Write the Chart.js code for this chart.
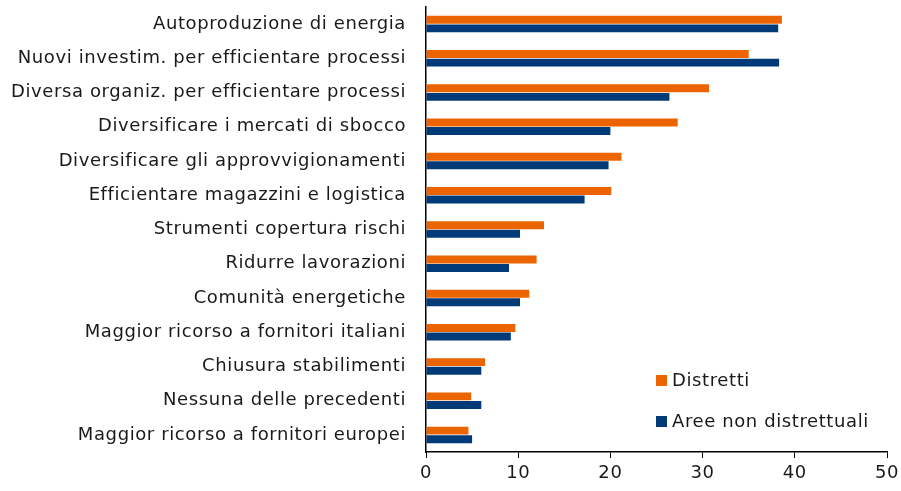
<!DOCTYPE html>
<html>
<head>
<meta charset="utf-8">
<script src="https://cdn.jsdelivr.net/npm/chart.js@4/dist/chart.umd.min.js"></script>
<style>
  html, body { margin: 0; padding: 0; background: #ffffff; }
  #wrap { width: 901px; height: 491px; position: relative; }
</style>
</head>
<body>
<div id="wrap"><canvas id="chart"></canvas></div>
<script>
// Data
const categories = [
    'Autoproduzione di energia',
    'Nuovi investim. per efficientare processi',
    'Diversa organiz. per efficientare processi',
    'Diversificare i mercati di sbocco',
    'Diversificare gli approvvigionamenti',
    'Efficientare magazzini e logistica',
    'Strumenti copertura rischi',
    'Ridurre lavorazioni',
    'Comunità energetiche',
    'Maggior ricorso a fornitori italiani',
    'Chiusura stabilimenti',
    'Nessuna delle precedenti',
    'Maggior ricorso a fornitori europei'
];
const distretti = [38.6, 35.0, 30.7, 27.3, 21.2, 20.1, 12.8, 12.0, 11.2, 9.7, 6.4, 4.9, 4.6];
const areeNonDistrettuali = [38.2, 38.3, 26.4, 20.0, 19.8, 17.2, 10.2, 9.0, 10.2, 9.2, 6.0, 6.0, 5.0];
const xTicks = [0, 10, 20, 30, 40, 50];

const ORANGE = '#EB6400';
const BLUE = '#003A78';
const FONT = 'DejaVu Sans';

// a bit of letter spacing to get closer to the wide original typeface
const spacing = {
    id: 'spacing',
    beforeDraw(chart) {
        chart.ctx.letterSpacing = '0.6px';
    }
};

// Legend drawn inside the plot, bottom right
const innerLegend = {
    id: 'innerLegend',
    afterDraw(chart) {
        const ctx = chart.ctx;
        const area = chart.chartArea;
        const x = area.left + 230;
        let y = area.bottom - 77;
        ctx.save();
        ctx.font = '18px ' + FONT;
        ctx.textBaseline = 'middle';
        ctx.textAlign = 'left';
        chart.data.datasets.forEach(ds => {
            ctx.fillStyle = ds.backgroundColor;
            ctx.fillRect(x, y, 11, 11);
            ctx.fillStyle = '#1a1a1a';
            ctx.fillText(ds.label, x + 16, y + 6);
            y += 41;
        });
        ctx.restore();
    }
};

new Chart(document.getElementById('chart'), {
    type: 'bar',
    data: {
        labels: categories,
        datasets: [
            {
                label: 'Distretti',
                data: distretti,
                backgroundColor: ORANGE,
                categoryPercentage: 0.5,
                barPercentage: 0.93
            },
            {
                label: 'Aree non distrettuali',
                data: areeNonDistrettuali,
                backgroundColor: BLUE,
                categoryPercentage: 0.5,
                barPercentage: 0.93
            }
        ]
    },
    options: {
        indexAxis: 'y',
        responsive: true,
        maintainAspectRatio: false,
        animation: false,
        layout: { padding: { top: 7, right: 14, left: 0, bottom: 0 } },
        plugins: {
            legend: { display: false },
            tooltip: { enabled: false }
        },
        scales: {
            x: {
                min: 0,
                max: 50,
                afterBuildTicks: scale => {
                    scale.ticks = xTicks.map(v => ({ value: v }));
                },
                afterFit: scale => {
                    scale.height = 39;
                    scale.paddingLeft = 0;
                    scale.paddingRight = 0;
                },
                grid: {
                    drawOnChartArea: false,
                    drawTicks: true,
                    tickLength: 6,
                    color: '#000000'
                },
                border: { color: '#000000', width: 1.5 },
                ticks: {
                    color: '#1a1a1a',
                    font: { family: FONT, size: 18 },
                    padding: 5,
                    maxRotation: 0
                }
            },
            y: {
                afterFit: scale => {
                    scale.width = 426;
                    scale.paddingTop = 0;
                    scale.paddingBottom = 0;
                },
                grid: { display: false, drawTicks: false },
                border: { color: '#000000', width: 1.5 },
                ticks: {
                    color: '#1a1a1a',
                    font: { family: FONT, size: 18 },
                    padding: 20
                }
            }
        }
    },
    plugins: [spacing, innerLegend]
});
</script>
</body>
</html>
